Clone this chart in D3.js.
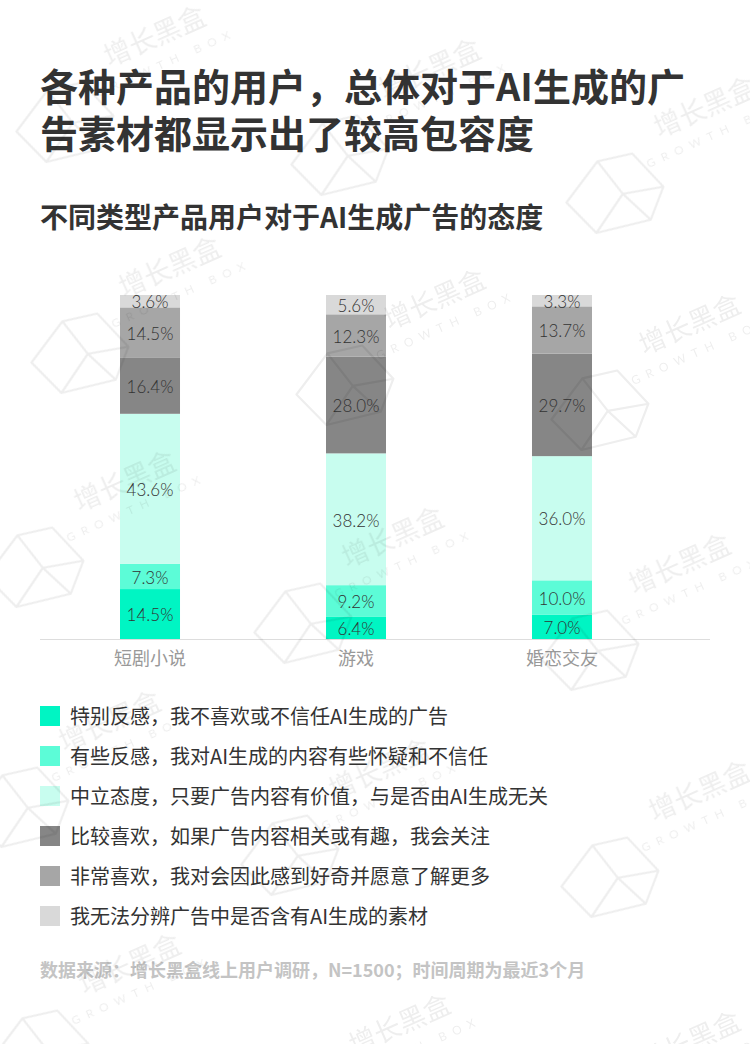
<!DOCTYPE html>
<html>
<head>
<meta charset="utf-8">
<script src="https://cdn.jsdelivr.net/npm/d3@7"></script>
<style>
html,body{margin:0;padding:0;background:#fff;}
svg{display:block;}
</style>
</head>
<body>
<div id="chart"></div>
<script>
// ---- data ----
const title = ["各种产品的用户，总体对于AI生成的广", "告素材都显示出了较高包容度"];
const subtitle = "不同类型产品用户对于AI生成广告的态度";
const categories = ["短剧小说", "游戏", "婚恋交友"];
const seriesNames = [
  "特别反感，我不喜欢或不信任AI生成的广告",
  "有些反感，我对AI生成的内容有些怀疑和不信任",
  "中立态度，只要广告内容有价值，与是否由AI生成无关",
  "比较喜欢，如果广告内容相关或有趣，我会关注",
  "非常喜欢，我对会因此感到好奇并愿意了解更多",
  "我无法分辨广告中是否含有AI生成的素材"
];
const strongDislike = [14.5, 6.4, 7.0];
const someDislike   = [7.3, 9.2, 10.0];
const neutral       = [43.6, 38.2, 36.0];
const like          = [16.4, 28.0, 29.7];
const loveIt        = [14.5, 12.3, 13.7];
const cannotTell    = [3.6, 5.6, 3.3];
const colors = ["#00F5C3", "#5CFCD7", "#C8FDEF", "#868686", "#A6A6A6", "#D9D9D9"];
const footnote = "数据来源：增长黑盒线上用户调研，N=1500；时间周期为最近3个月";

const seriesValues = [strongDislike, someDislike, neutral, like, loveIt, cannotTell];
const keys = seriesNames.map((d, i) => "s" + i);
const table = categories.map((c, ci) => {
  const row = {cat: c};
  keys.forEach((k, ki) => row[k] = seriesValues[ki][ci]);
  return row;
});

const W = 750, H = 1044;
const svg = d3.select("#chart").append("svg").attr("width", W).attr("height", H);
const CJK = "'Noto Sans CJK SC','Noto Sans',sans-serif";

// ---- titles ----
svg.append("g").selectAll("text").data(title).join("text")
  .attr("x", 40).attr("y", (d, i) => 101 + i * 47)
  .attr("font-family", CJK).attr("font-weight", 700).attr("font-size", 38)
  .attr("fill", "#333").text(d => d);

svg.append("text").attr("x", 40).attr("y", 228)
  .attr("font-family", CJK).attr("font-weight", 700).attr("font-size", 28)
  .attr("fill", "#333").text(subtitle);

// ---- scales ----
const x = d3.scaleBand().domain(categories).range([47, 665]).paddingInner(0.7087).paddingOuter(0.3544);
const y = d3.scaleLinear().domain([0, 1]).range([639, 295]);
const stack = d3.stack().keys(keys).offset(d3.stackOffsetExpand);
const stacked = stack(table);

const gBars = svg.append("g");
const layers = gBars.selectAll("g.layer").data(stacked).join("g")
  .attr("class", "layer").attr("fill", (d, i) => colors[i]);
layers.selectAll("rect").data(d => d).join("rect")
  .attr("x", d => x(d.data.cat)).attr("width", x.bandwidth())
  .attr("y", d => y(d[1])).attr("height", d => y(d[0]) - y(d[1]));

// labels
const gLab = svg.append("g");
stacked.forEach((layer, li) => {
  gLab.append("g").selectAll("text").data(layer).join("text")
    .attr("x", d => x(d.data.cat) + x.bandwidth() / 2)
    .attr("y", d => (y(d[0]) + y(d[1])) / 2 + 3)
    .attr("text-anchor", "middle").attr("dominant-baseline", "middle")
    .attr("font-family", "Lato, 'Open Sans', sans-serif").attr("font-weight", 300)
    .attr("font-size", 17).attr("fill", "#333")
    .text(d => d.data[layer.key].toFixed(1) + "%");
});

// baseline
svg.append("line").attr("x1", 40).attr("x2", 710).attr("y1", 639.5).attr("y2", 639.5)
  .attr("stroke", "#dddddd").attr("stroke-width", 1);

// category axis
const ax = svg.append("g").attr("transform", "translate(0,640)")
  .call(d3.axisBottom(x).tickSize(0).tickPadding(12));
ax.select(".domain").remove();
ax.selectAll("text").attr("font-family", CJK).attr("font-size", 18).attr("fill", "#999");

// ---- legend ----
const lg = svg.append("g").selectAll("g").data(seriesNames).join("g")
  .attr("transform", (d, i) => `translate(40,${706 + i * 40})`);
lg.append("rect").attr("width", 20).attr("height", 20).attr("fill", (d, i) => colors[i]);
lg.append("text").attr("x", 30).attr("y", 17.6)
  .attr("font-family", CJK).attr("font-size", 20).attr("fill", "#333").text(d => d);

// ---- footnote ----
svg.append("text").attr("x", 40).attr("y", 977)
  .attr("font-family", CJK).attr("font-weight", 700).attr("font-size", 18)
  .attr("fill", "#c4c4c4").text(footnote);

// ---- watermarks ----
const wmPos = [
  [155, 37], [430, 70], [705, 108],
  [170, 268], [435, 300], [690, 325],
  [125, 482], [393, 538], [680, 565],
  [110, 722], [380, 770], [700, 792],
  [130, 965], [400, 1025], [690, 1042]
];
const wm = svg.append("g").attr("opacity", 0.07).attr("pointer-events", "none");
const wg = wm.selectAll("g").data(wmPos).join("g")
  .attr("transform", d => `translate(${d[0]},${d[1]}) rotate(-24)`);
wg.append("text").attr("text-anchor", "middle").attr("y", 9)
  .attr("font-family", CJK).attr("font-size", 27).attr("fill", "#000").text("增长黑盒");
wg.append("text").attr("text-anchor", "middle").attr("y", 32)
  .attr("font-family", "Lato, sans-serif").attr("font-size", 12).attr("letter-spacing", 7)
  .attr("fill", "#000").text("GROWTH BOX");
wg.append("path")
  .attr("d", "M-165,30 L-120,5 L-85,12 L-70,55 L-95,80 L-150,70 Z M-120,5 L-110,45 L-95,80 M-110,45 L-150,70 M-110,45 L-70,55")
  .attr("fill", "none").attr("stroke", "#000").attr("stroke-width", 2.2).attr("stroke-linejoin", "round");
</script>
</body>
</html>
